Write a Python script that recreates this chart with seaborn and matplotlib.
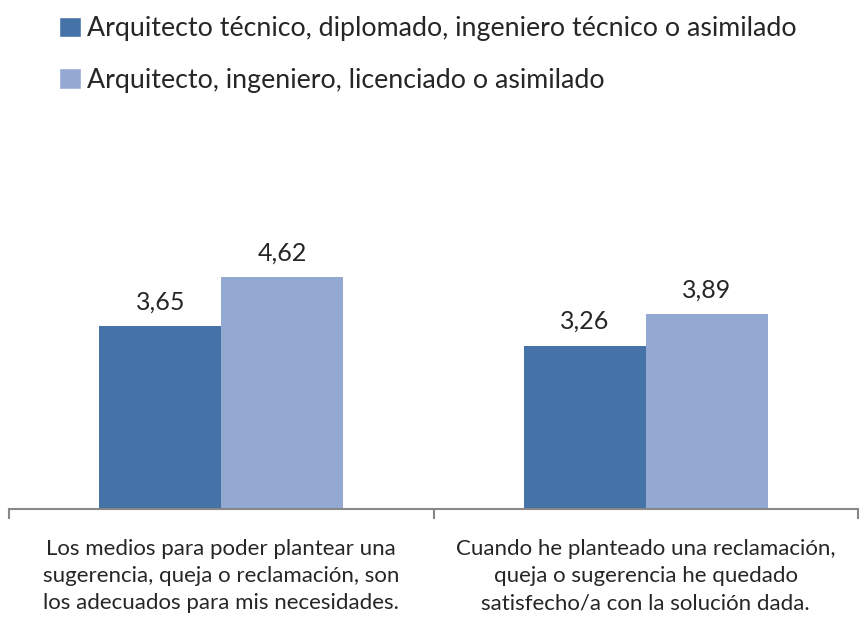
import pandas as pd
import matplotlib.pyplot as plt
import seaborn as sns
from matplotlib.patches import Patch

categories = [
    'Los medios para poder plantear una\nsugerencia, queja o reclamación, son\nlos adecuados para mis necesidades.',
    'Cuando he planteado una reclamación,\nqueja o sugerencia he quedado\nsatisfecho/a con la solución dada.',
]
series = [
    'Arquitecto técnico, diplomado, ingeniero técnico o asimilado',
    'Arquitecto, ingeniero, licenciado o asimilado',
]
tecnico = [3.65, 3.26]
superior = [4.62, 3.89]
colors = ['#4572A7', '#93A9D1']

df = pd.DataFrame({
    'cat': categories * 2,
    'serie': [series[0]] * 2 + [series[1]] * 2,
    'valor': tecnico + superior,
})

sns.set_style('white')
plt.rcParams['font.family'] = ['Lato', 'DejaVu Sans']

fig = plt.figure(figsize=(8.61, 6.2), dpi=100)
ax = fig.add_axes([9 / 861, 111 / 620, 849 / 861, 351 / 620])

sns.barplot(data=df, x='cat', y='valor', hue='serie', palette=colors,
            width=0.575, saturation=1, linewidth=0, ax=ax, legend=False)

for cont in ax.containers:
    ax.bar_label(cont, labels=[f'{v:.2f}'.replace('.', ',') for v in cont.datavalues],
                 padding=9, fontsize=18)

ax.set_ylim(0, 7)
ax.set_xlim(-0.5, 1.5)
ax.set_xlabel('')
ax.set_ylabel('')
ax.set_yticks([])
for s in ['top', 'right', 'left']:
    ax.spines[s].set_visible(False)
ax.spines['bottom'].set_color('#888888')
ax.spines['bottom'].set_linewidth(1.5)

ax.set_xticks([-0.5, 0.5, 1.5], minor=True)
ax.tick_params(axis='x', which='minor', bottom=True, length=7, width=1.5, color='#888888')
ax.tick_params(axis='x', which='major', bottom=False, labelsize=16, pad=18)
for lbl in ax.get_xticklabels():
    lbl.set_linespacing(1.45)

handles = [Patch(facecolor=c) for c in colors]
fig.legend(handles, series, loc='upper left', bbox_to_anchor=(0.05, 1.0),
           frameon=False, fontsize=19.3, handlelength=0.8, handleheight=0.8,
           handletextpad=0.25, labelspacing=1.0, borderaxespad=0.2)

fig.savefig('out.png', dpi=100)
